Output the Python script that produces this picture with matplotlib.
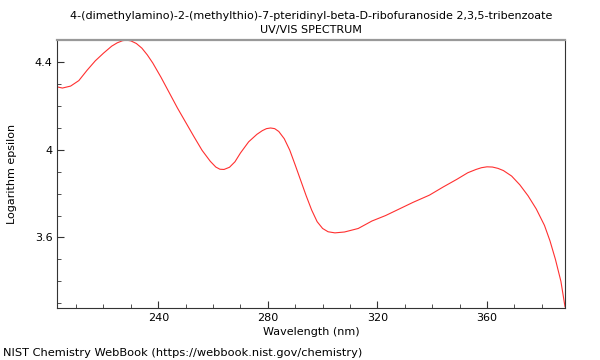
import matplotlib
matplotlib.use("Agg")
import matplotlib.pyplot as plt
from matplotlib.ticker import MultipleLocator

# spectre (nm, log epsilon)
wavelength = [203.2, 205, 208, 211, 214, 217, 220, 223, 225, 227, 228.5, 230, 232, 234,
              236, 238, 241, 244, 247, 250, 253, 256, 259, 261, 262.5, 264, 266, 268,
              270, 273, 276, 278, 279.5, 281, 282.5, 284, 286, 288, 290, 292, 294, 296,
              298, 300, 302, 304.5, 308, 313, 318, 323, 328, 333, 339, 344, 349, 353,
              356, 358, 360, 362, 364, 366, 369, 372, 375, 378, 381, 383, 385, 387, 388.5]
log_eps = [4.286, 4.281, 4.290, 4.315, 4.362, 4.405, 4.440, 4.472, 4.487, 4.497, 4.499,
           4.496, 4.484, 4.463, 4.432, 4.395, 4.330, 4.260, 4.190, 4.125, 4.060, 3.997,
           3.947, 3.921, 3.911, 3.910, 3.920, 3.945, 3.985, 4.036, 4.070, 4.087, 4.096,
           4.099, 4.096, 4.083, 4.050, 3.998, 3.930, 3.860, 3.790, 3.725, 3.672, 3.641,
           3.626, 3.621, 3.625, 3.641, 3.675, 3.700, 3.730, 3.760, 3.793, 3.830, 3.865,
           3.895, 3.910, 3.918, 3.922, 3.921, 3.915, 3.905, 3.880, 3.840, 3.790, 3.730,
           3.655, 3.585, 3.500, 3.400, 3.284]

titre = "4-(dimethylamino)-2-(methylthio)-7-pteridinyl-beta-D-ribofuranoside 2,3,5-tribenzoate\nUV/VIS SPECTRUM"

fig = plt.figure(figsize=(6, 3.6), dpi=100)
ax = fig.add_axes([0.0958, 0.1453, 0.8459, 0.7436])

ax.plot(wavelength, log_eps, color="#ff3030", lw=0.8)

ax.set_xlim(203.2, 388.5)
ax.set_ylim(3.28, 4.5)
ax.xaxis.set_major_locator(MultipleLocator(40))
ax.xaxis.set_minor_locator(MultipleLocator(10))
ax.yaxis.set_major_locator(MultipleLocator(0.4))
ax.yaxis.set_minor_locator(MultipleLocator(0.1))
ax.yaxis.set_major_formatter(plt.FuncFormatter(lambda v, p: f"{v:g}"))

ax.tick_params(which="both", direction="in", labelsize=8, colors="#333333",
               labelcolor="black")
ax.tick_params(which="major", length=5)
ax.tick_params(which="minor", length=3)

for s in ["left", "bottom", "right"]:
    ax.spines[s].set_color("#333333")
ax.spines["top"].set_color("#999999")
ax.spines["top"].set_linewidth(1.6)

ax.set_title(titre, fontsize=8, pad=5, linespacing=1.45)
ax.set_xlabel("Wavelength (nm)", fontsize=8, labelpad=3)
ax.set_ylabel("Logarithm epsilon", fontsize=8, labelpad=13)
fig.text(0.005, 0.012, "NIST Chemistry WebBook (https://webbook.nist.gov/chemistry)",
         fontsize=8.2)

fig.savefig("out.png", dpi=100)
